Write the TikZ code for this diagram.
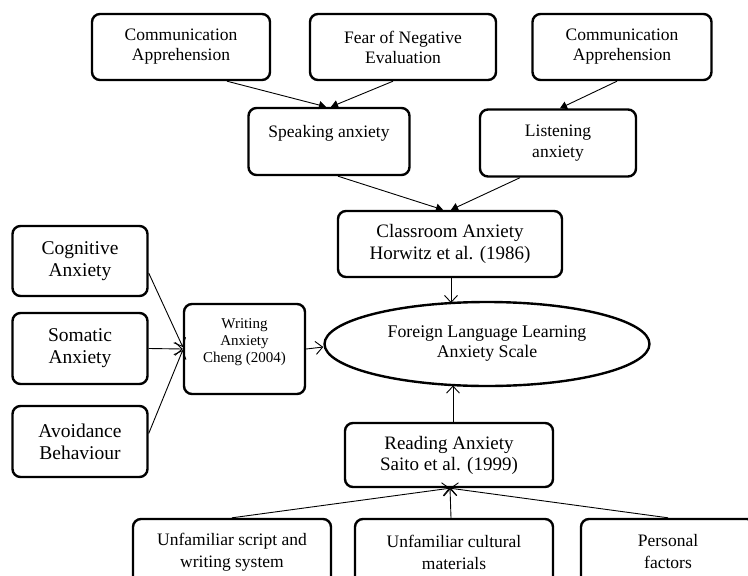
\documentclass[tikz,border=0pt]{standalone}
\usepackage{fontspec}
\setmainfont{Liberation Serif}
\usetikzlibrary{arrows.meta,shapes.geometric,calc}
\tikzset{
  box/.style={draw, line width=2.4pt, rounded corners=8pt, inner sep=0pt, align=center},
  oval/.style={draw, line width=2.4pt, ellipse, inner sep=0pt, align=center},
  fillarrow/.style={line width=0.9pt, -{Triangle[length=7pt,width=8pt]}},
  openarrow/.style={line width=0.9pt, -{Straight Barb[length=7pt,width=13pt]}},
  topfont/.style={font=\fontsize{17.5}{20}\selectfont},
  leftfont/.style={font=\fontsize{19.5}{22}\selectfont},
  midfont/.style={font=\fontsize{19}{22.5}\selectfont},
  smallfont/.style={font=\fontsize{15}{17}\selectfont},
  botfont/.style={font=\fontsize{17.5}{22}\selectfont}
}
\begin{document}
\begin{tikzpicture}[x=1pt,y=-1pt]
\useasboundingbox (0,0) rectangle (748,576);
\clip (0,0) rectangle (748,576);
\fill[white] (0,0) rectangle (748,576);

% top row
\node[box, topfont, minimum width=178pt, minimum height=66pt, text depth=4pt] (ca1) at (181,47) {Communication\\Apprehension};
\node[box, topfont, minimum width=186pt, minimum height=66pt] (fne) at (403,47) {Fear of Negative\\Evaluation};
\node[box, topfont, minimum width=179pt, minimum height=66pt, text depth=4pt] (ca2) at (622,47) {Communication\\Apprehension};

% second row
\node[box, font=\fontsize{17.5}{21}\selectfont, minimum width=161pt, minimum height=67pt] (spk) at (329,141.5) {Speaking anxiety\\\mbox{}};
\node[box, font=\fontsize{17.5}{21}\selectfont, minimum width=156pt, minimum height=67pt] (lst) at (558,143) {Listening\\anxiety};

% classroom
\node[box, midfont, minimum width=224pt, minimum height=66pt] (cls) at (450,244) {Classroom Anxiety\\Horwitz et al. (1986)};

% ellipse
\node[oval, font=\fontsize{17.8}{20}\selectfont, minimum width=325pt, minimum height=84pt] (flla) at (487,344) {Foreign Language Learning\\Anxiety Scale};

% left column
\node[box, leftfont, minimum width=135pt, minimum height=70pt] (cog) at (80,261) {Cognitive\\Anxiety};
\node[box, leftfont, minimum width=135pt, minimum height=71pt] (som) at (80,348.5) {Somatic\\Anxiety};
\node[box, leftfont, minimum width=135pt, minimum height=71pt] (avo) at (80,441.5) {Avoidance\\Behaviour};

% writing
\node[box, smallfont, minimum width=121pt, minimum height=90pt] (wri) at (244.5,349) {Writing\\Anxiety\\Cheng (2004)\\\mbox{}};

% reading
\node[box, font=\fontsize{19}{21}\selectfont, minimum width=208pt, minimum height=64pt] (rdg) at (449,455) {Reading Anxiety\\Saito et al. (1999)};

% bottom row
\node[box, botfont, minimum width=198pt, minimum height=66pt] (scr) at (232,552) {Unfamiliar script and\\writing system};
\node[box, botfont, minimum width=198pt, minimum height=66pt] (cul) at (454,552) {Unfamiliar cultural\\materials};
\node[box, botfont, minimum width=174pt, minimum height=66pt] (per) at (668,552) {Personal\\factors};

% connectors top
\draw[fillarrow] ([xshift=46pt]ca1.south) -- ([xshift=-3pt]spk.north);
\draw[fillarrow] ([xshift=-10pt]fne.south) -- ([xshift=2pt]spk.north);
\draw[fillarrow] ([xshift=-5pt]ca2.south) -- ([xshift=2pt]lst.north);
\draw[fillarrow] ([xshift=9pt]spk.south) -- ([xshift=-7pt]cls.north);
\draw[fillarrow] ([xshift=-38pt]lst.south) -- ([xshift=1pt]cls.north);

% to ellipse
\coordinate (et) at (451,303);
\coordinate (eb) at (453,385.5);
\draw[openarrow] ([xshift=1pt]cls.south) -- (et);
\draw[openarrow] ([xshift=4pt]rdg.north) -- (eb);
\draw[openarrow] (wri.east) -- ([yshift=-3pt]flla.west);

% left to writing
\draw[openarrow] ([yshift=-12pt]cog.east) -- ([yshift=2pt]wri.west);
\draw[openarrow] (som.east) -- (wri.west);
\draw[openarrow] ([yshift=8pt]avo.east) -- ([yshift=-1pt]wri.west);

% bottom to reading
\draw[openarrow] (scr.north) -- ([xshift=1pt]rdg.south);
\draw[openarrow] ([xshift=-3pt]cul.north) -- ([xshift=1pt]rdg.south);
\draw[openarrow] (per.north) -- ([xshift=1pt]rdg.south);
\end{tikzpicture}
\end{document}
